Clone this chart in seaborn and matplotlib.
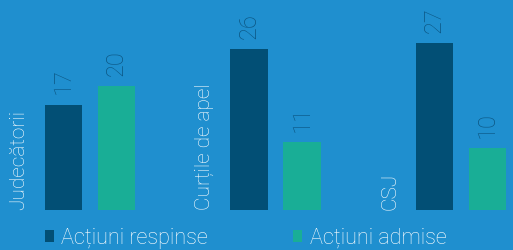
import pandas as pd
import matplotlib.pyplot as plt
import seaborn as sns

# date
categories = ['Judecătorii', 'Curțile de apel', 'CSJ']
respinse = [17, 26, 27]
admise = [20, 11, 10]
series_names = ['Acțiuni respinse', 'Acțiuni admise']

bg = '#1f8fcf'
dark = '#024f75'
green = '#19ae96'

df = pd.DataFrame({
    'instanta': categories * 2,
    'tip': [series_names[0]] * 3 + [series_names[1]] * 3,
    'valoare': respinse + admise,
})

sns.set_theme(style='white')
plt.rcParams['font.family'] = ['Roboto', 'DejaVu Sans']
plt.rcParams['font.weight'] = 'light'

fig = plt.figure(figsize=(5.13, 2.5), dpi=100, facecolor=bg)
ax = fig.add_axes([0, 40 / 250, 1, 210 / 250])
ax.set_facecolor(bg)

sns.barplot(data=df, x='instanta', y='valoare', hue='tip',
            palette=[dark, green], width=0.572, gap=0.30,
            saturation=1, edgecolor='none', linewidth=0, ax=ax)

for cont in ax.containers:
    ax.bar_label(cont, fmt='%d', rotation=90, padding=7.5, fontsize=17,
                 color='#0b5683', fontweight='light')

for i, name in enumerate(categories):
    ax.text(i - 0.385, 0, name, rotation=90, ha='center', va='bottom',
            color='white', fontsize=15, fontweight='light')

ax.set_xlim(-0.485, 2.28)
ax.set_ylim(0, 33.95)
ax.set_xticks([])
ax.set_yticks([])
ax.set_xlabel('')
ax.set_ylabel('')
sns.despine(ax=ax, left=True, bottom=True, top=True, right=True)

sns.move_legend(ax, 'lower left', bbox_to_anchor=(0.07, -0.225), ncol=2,
                title=None, frameon=False, handlelength=0.45, handleheight=0.45,
                handletextpad=0.33, columnspacing=3.9, fontsize=15.6,
                labelcolor='white', borderaxespad=0)
for h in ax.get_legend().legend_handles:
    h.set_edgecolor('none')

fig.savefig('out.png', dpi=100, facecolor=bg)
